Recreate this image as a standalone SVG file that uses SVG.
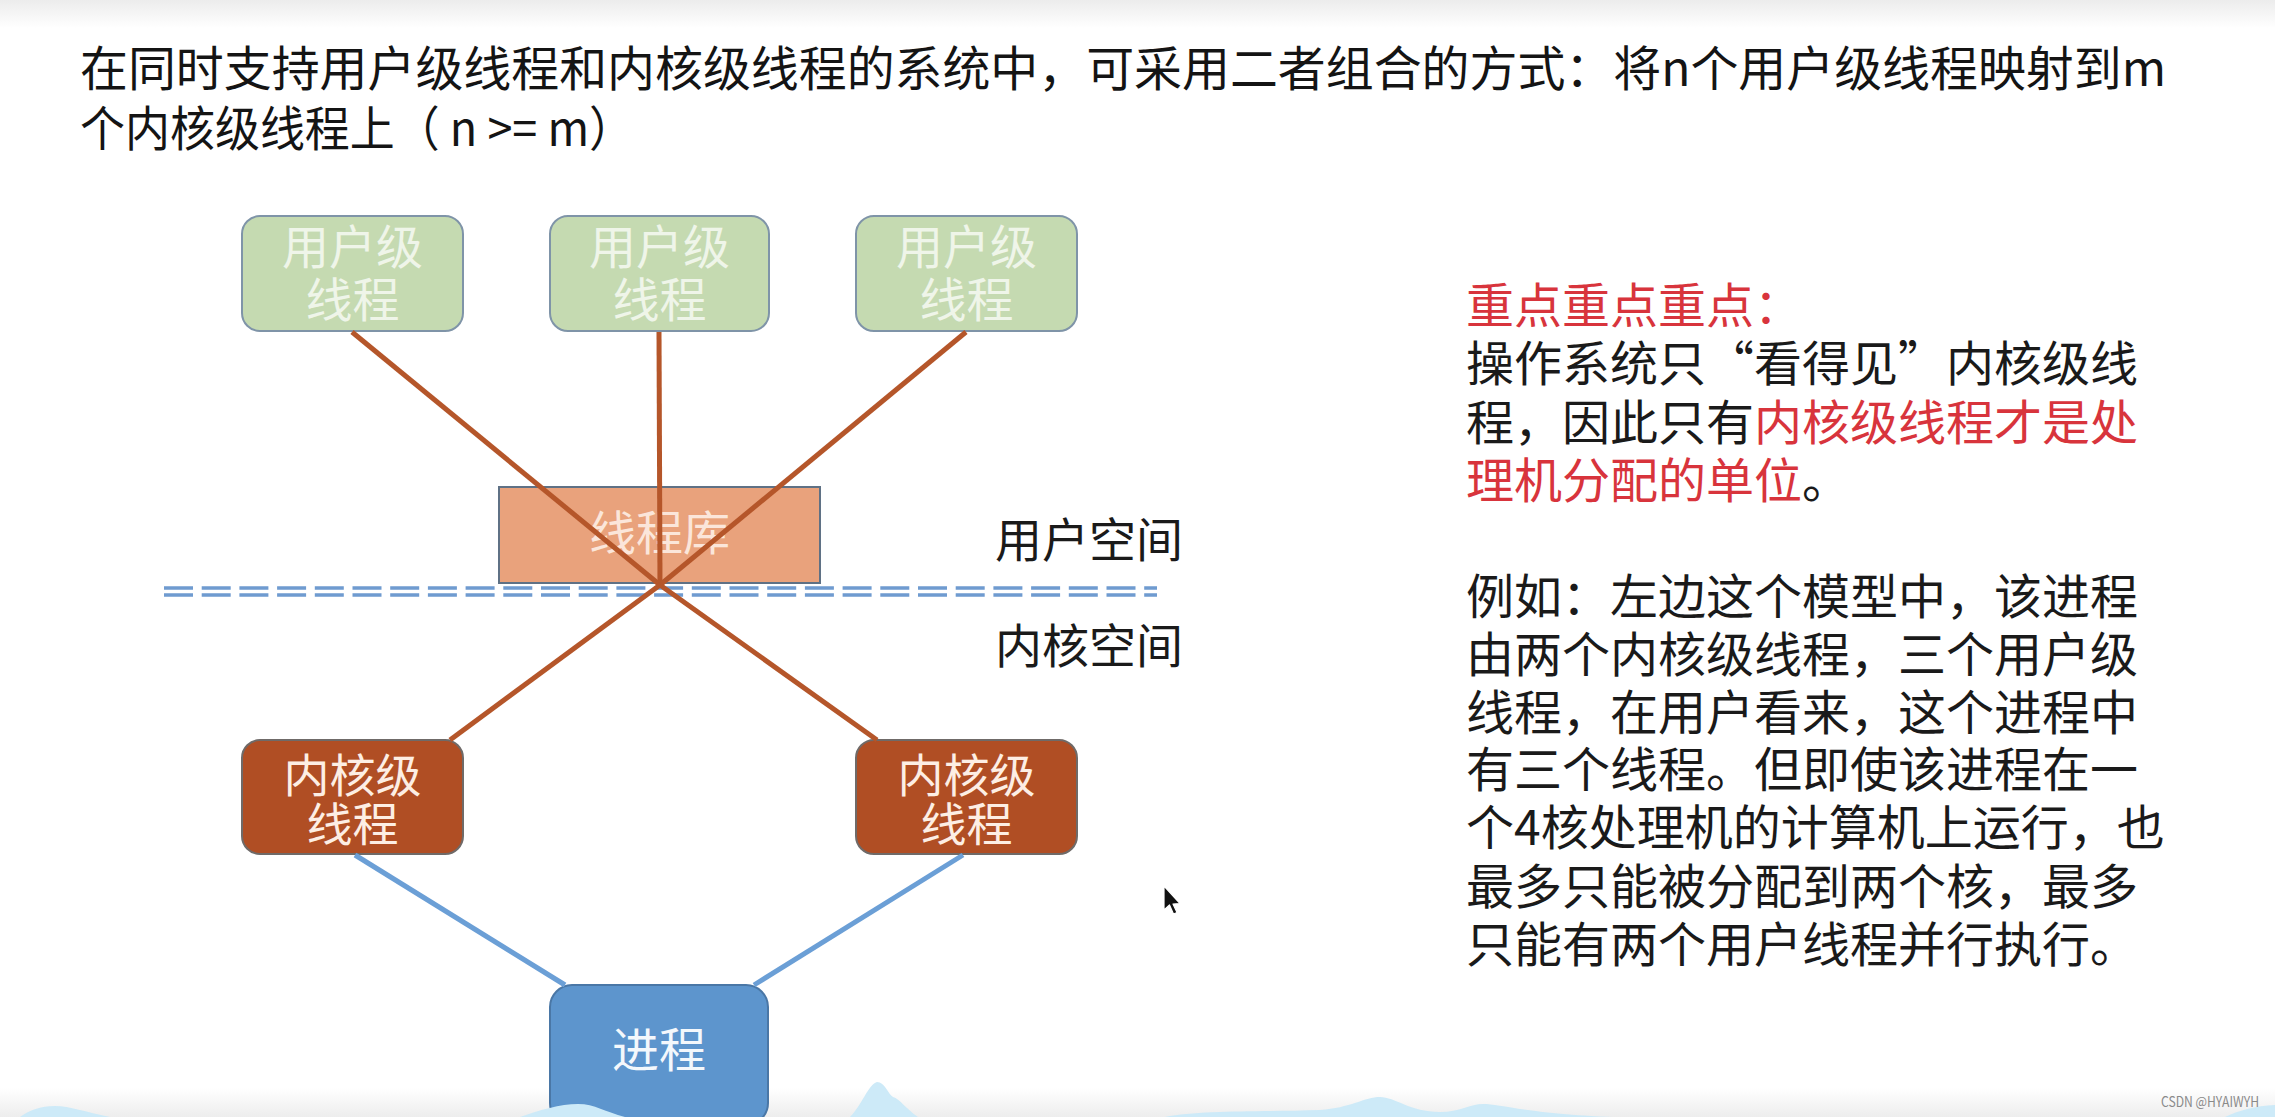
<svg xmlns="http://www.w3.org/2000/svg" width="2275" height="1117" viewBox="0 0 2275 1117">
<style>
  text { font-family: "Noto Sans CJK SC", "Noto Sans", sans-serif; }
  .title { font-size: 48px; fill: #141414; }
  .body { font-size: 48px; fill: #1a1a1a; }
  .red { fill: #d8343c; }
  .space { font-size: 47px; fill: #1a1a1a; }
  .user rect { fill: #c5dab1; stroke: #7f94a8; stroke-width: 2; }
  .user text { font-size: 47px; fill: #eff5e9; text-anchor: middle; }
  .lib rect { fill: #e9a27c; stroke: #5f7185; stroke-width: 2; }
  .lib text { font-size: 47px; fill: #fbe6da; text-anchor: middle; }
  .kern rect { fill: #b04e24; stroke: #6f6a68; stroke-width: 2; }
  .kern text { font-size: 46px; fill: #fdeee4; text-anchor: middle; }
  .proc rect { fill: #5d95cd; stroke: #4a77a6; stroke-width: 2; }
  .proc text { font-size: 47px; fill: #f4f8fc; text-anchor: middle; }
  .orange { stroke: #b5562a; stroke-width: 5; fill: none; }
  .blue { stroke: #6b9fd6; stroke-width: 5; fill: none; }
  .dash { stroke: #6f9bd0; stroke-width: 3.5; stroke-dasharray: 29 8.7; fill: none; }
</style>
<defs>
  <linearGradient id="topband" x1="0" y1="0" x2="0" y2="1">
    <stop offset="0" stop-color="#ececec"/>
    <stop offset="1" stop-color="#ffffff"/>
  </linearGradient>
  <linearGradient id="botband" x1="0" y1="0" x2="0" y2="1">
    <stop offset="0" stop-color="#ffffff"/>
    <stop offset="1" stop-color="#ededed"/>
  </linearGradient>
</defs>
<rect x="0" y="0" width="2275" height="1117" fill="#ffffff"/>
<rect x="0" y="0" width="2275" height="28" fill="url(#topband)"/>
<rect x="0" y="1088" width="2275" height="29" fill="url(#botband)"/>

<g id="title">
  <text class="title" x="80" y="86" textLength="2086" lengthAdjust="spacingAndGlyphs">在同时支持用户级线程和内核级线程的系统中，可采用二者组合的方式：将n个用户级线程映射到m</text>
  <text class="title" x="80" y="146" textLength="554" lengthAdjust="spacingAndGlyphs">个内核级线程上（ n &gt;= m）</text>
</g>

<g id="user1" class="user">
  <rect x="242" y="216" width="221" height="115" rx="18"/>
  <text x="352.5" y="264">用户级</text>
  <text x="352.5" y="317">线程</text>
</g>
<g id="user2" class="user">
  <rect x="550" y="216" width="219" height="115" rx="18"/>
  <text x="659.5" y="264">用户级</text>
  <text x="659.5" y="317">线程</text>
</g>
<g id="user3" class="user">
  <rect x="856" y="216" width="221" height="115" rx="18"/>
  <text x="966.5" y="264">用户级</text>
  <text x="966.5" y="317">线程</text>
</g>

<g id="threadlib" class="lib">
  <rect x="499" y="487" width="321" height="96"/>
  <text x="659.5" y="550">线程库</text>
</g>

<g id="kernel1" class="kern">
  <rect x="242" y="740" width="221" height="114" rx="18"/>
  <text x="352.5" y="792">内核级</text>
  <text x="352.5" y="841">线程</text>
</g>
<g id="kernel2" class="kern">
  <rect x="856" y="740" width="221" height="114" rx="18"/>
  <text x="966.5" y="792">内核级</text>
  <text x="966.5" y="841">线程</text>
</g>

<g id="process" class="proc">
  <rect x="550" y="985" width="218" height="140" rx="22"/>
  <text x="659" y="1067">进程</text>
</g>

<g id="boundary">
  <line class="dash" x1="164" y1="588" x2="1157" y2="588"/>
  <line class="dash" x1="164" y1="595" x2="1157" y2="595"/>
</g>

<g id="connectors">
  <line class="orange" x1="352" y1="332" x2="660" y2="585"/>
  <line class="orange" x1="659" y1="332" x2="660" y2="585"/>
  <line class="orange" x1="966" y1="332" x2="660" y2="585"/>
  <line class="orange" x1="660" y1="585" x2="450" y2="740"/>
  <line class="orange" x1="660" y1="585" x2="877" y2="740"/>
  <line class="blue" x1="355" y1="855" x2="565" y2="985"/>
  <line class="blue" x1="963" y1="855" x2="754" y2="985"/>
</g>

<g id="space-labels">
  <text class="space" x="995" y="557">用户空间</text>
  <text class="space" x="995" y="663">内核空间</text>
</g>

<g id="notes">
  <text class="body red" x="1466" y="323">重点重点重点：</text>
  <text class="body" x="1466" y="381">操作系统只“看得见”内核级线</text>
  <text class="body" x="1466" y="440">程，因此只有<tspan class="red">内核级线程才是处</tspan></text>
  <text class="body" x="1466" y="498"><tspan class="red">理机分配的单位</tspan>。</text>
  <text class="body" x="1466" y="614">例如：左边这个模型中，该进程</text>
  <text class="body" x="1466" y="672">由两个内核级线程，三个用户级</text>
  <text class="body" x="1466" y="730">线程，在用户看来，这个进程中</text>
  <text class="body" x="1466" y="787">有三个线程。但即使该进程在一</text>
  <text class="body" x="1466" y="845">个4核处理机的计算机上运行，也</text>
  <text class="body" x="1466" y="904">最多只能被分配到两个核，最多</text>
  <text class="body" x="1466" y="962">只能有两个用户线程并行执行。</text>
</g>

<g id="decor" fill="#cdeaf8">
  <path d="M20 1117 C30 1110 40 1106 55 1106 C70 1106 85 1112 110 1117 Z"/>
  <path d="M520 1117 C540 1110 560 1104 578 1104 C595 1104 605 1112 625 1117 Z"/>
  <path d="M850 1117 C862 1105 868 1085 877 1082 C885 1082 888 1094 893 1097 C900 1099 905 1108 918 1117 Z"/>
  <path d="M1165 1117 C1200 1110 1260 1112 1320 1110 C1350 1108 1365 1097 1380 1097 C1395 1097 1410 1112 1440 1112 C1460 1112 1470 1104 1483 1104 C1500 1104 1530 1114 1613 1117 Z"/>
  <path d="M2225 1117 C2240 1110 2255 1106 2275 1105 L2275 1117 Z"/>
</g>

<g id="cursor">
  <path d="M1164 886 L1164 910 L1169.5 905 L1173.5 914 L1177 912.5 L1173 904 L1180 903.5 Z" fill="#111" stroke="#ffffff" stroke-width="1.2" stroke-linejoin="round"/>
</g>

<text x="2161" y="1107" font-family="'Liberation Sans', sans-serif" font-size="14" fill="#8a8a8a" textLength="98" lengthAdjust="spacingAndGlyphs">CSDN @HYAIWYH</text>
</svg>
